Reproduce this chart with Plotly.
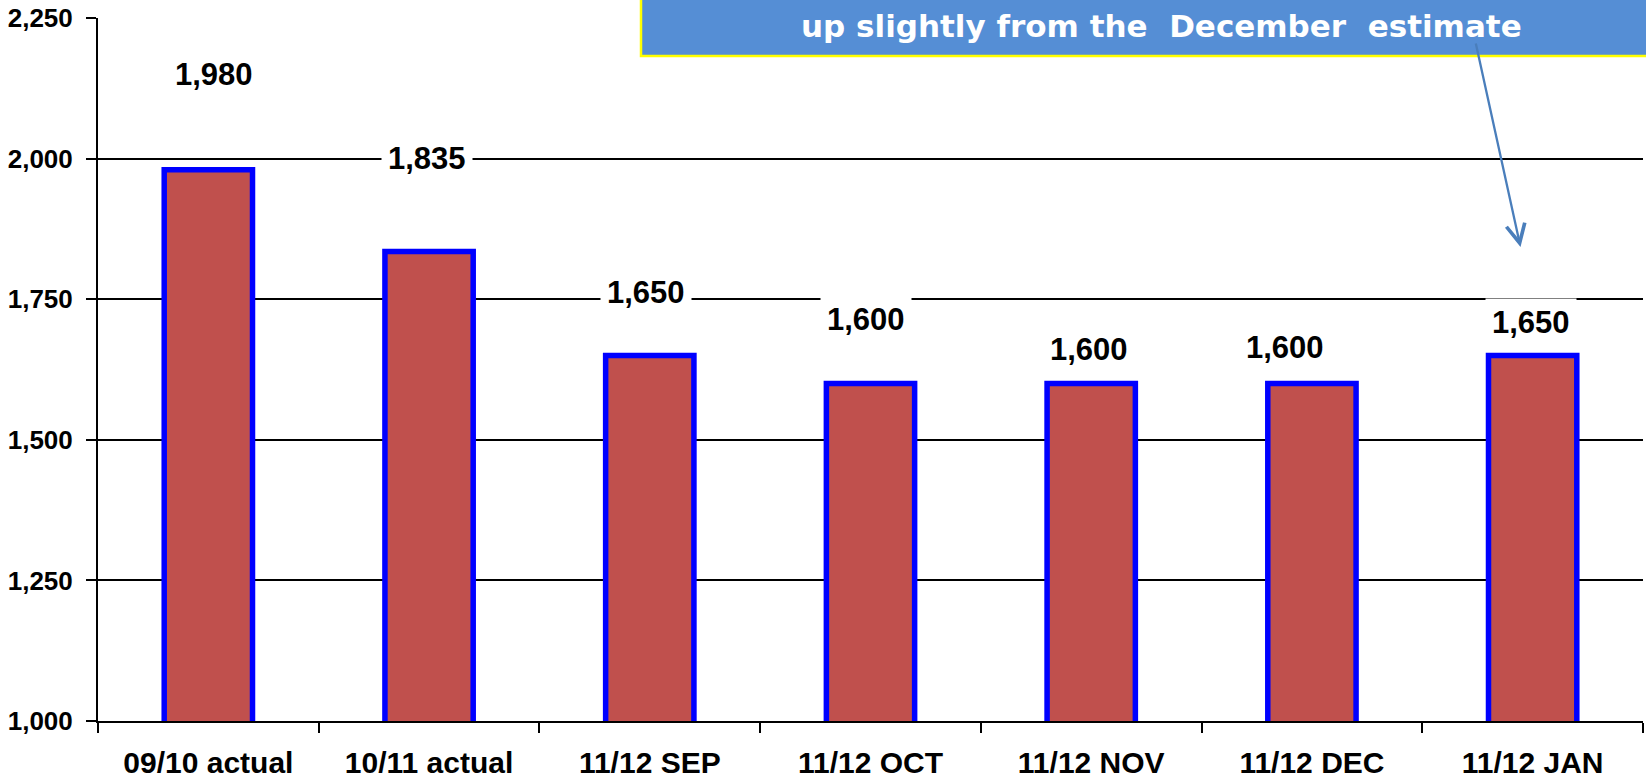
import plotly.graph_objects as go

# ---- data ----
categories = ["09/10 actual", "10/11 actual", "11/12 SEP", "11/12 OCT",
              "11/12 NOV", "11/12 DEC", "11/12 JAN"]
values = [1980, 1835, 1650, 1600, 1600, 1600, 1650]
y_tickvals = [1000, 1250, 1500, 1750, 2000, 2250]
note_text = "up slightly from the  December  estimate"

# label placement offsets (pixels, style only)
label_dx = [6, -2, -4, -5, -2, -27, -2]
label_dy = [95, 93, 63, 64, 34, 36, 33]

W, H = 1646, 783
ML, MR, MT, MB = 98, 3, 18, 62
PW = W - ML - MR
PH = H - MT - MB


def px_x(p):
    return (p - ML) / PW


def px_y(p):
    return (H - MB - p) / PH


FONT = "Arial, Liberation Sans, sans-serif"

fig = go.Figure()
fig.add_trace(go.Bar(
    x=categories, y=values,
    marker=dict(color="#C0504D", line=dict(color="#0000FF", width=5.5)),
    width=0.4,
    hoverinfo="skip",
))

annotations = []
for c, v, dx, dy in zip(categories, values, label_dx, label_dy):
    annotations.append(dict(
        x=c, y=v, xref="x", yref="y", text=f"<b>{v:,}</b>",
        showarrow=False, xanchor="center", yanchor="middle",
        xshift=dx, yshift=dy, bgcolor="white", borderpad=6,
        font=dict(family=FONT, size=31, color="black"),
    ))

# note box text
annotations.append(dict(
    x=px_x(1161), y=px_y(26), xref="paper", yref="paper",
    text=f"<b>{note_text}</b>", showarrow=False,
    xanchor="center", yanchor="middle",
    font=dict(family="DejaVu Sans", size=31, color="white"),
))
# arrow
annotations.append(dict(
    x=px_x(1520.5), y=px_y(247), xref="paper", yref="paper",
    text="", showarrow=True, ax=-45, ay=-205,
    arrowhead=5, arrowsize=1.6, arrowwidth=2.3, arrowcolor="#4A7EBB",
    standoff=0,
))

shapes = [dict(
    type="rect", xref="paper", yref="paper",
    x0=px_x(641), x1=1.05, y0=px_y(56), y1=1.3,
    fillcolor="#558ED5", line=dict(color="#FFFF00", width=2.5),
    layer="above",
)]

fig.update_layout(
    width=W, height=H,
    margin=dict(l=ML, r=MR, t=MT, b=MB, pad=0, autoexpand=False),
    paper_bgcolor="white", plot_bgcolor="white",
    showlegend=False,
    annotations=annotations,
    shapes=shapes,
    bargap=0.6,
)
fig.update_xaxes(
    type="category", showline=True, linecolor="black", linewidth=2,
    ticks="outside", tickson="boundaries", ticklen=10, tickwidth=2,
    tickcolor="black", showgrid=False, automargin=False,
    tickfont=dict(family=FONT, size=30, color="black", weight="bold"),
    ticklabelstandoff=14,
)
fig.update_yaxes(
    range=[1000, 2250], tickvals=y_tickvals,
    ticktext=[f"{t:,}" for t in y_tickvals],
    showline=True, linecolor="black", linewidth=2,
    ticks="outside", ticklen=10, tickwidth=2, tickcolor="black",
    showgrid=True, gridcolor="black", gridwidth=2,
    zeroline=False, automargin=False,
    tickfont=dict(family=FONT, size=26, color="black", weight="bold"),
    ticklabelstandoff=8,
)

fig.write_html(
    "out.html",
    config={"displayModeBar": False},
    post_script="document.body.style.margin='0';document.body.style.overflow='hidden';",
)
